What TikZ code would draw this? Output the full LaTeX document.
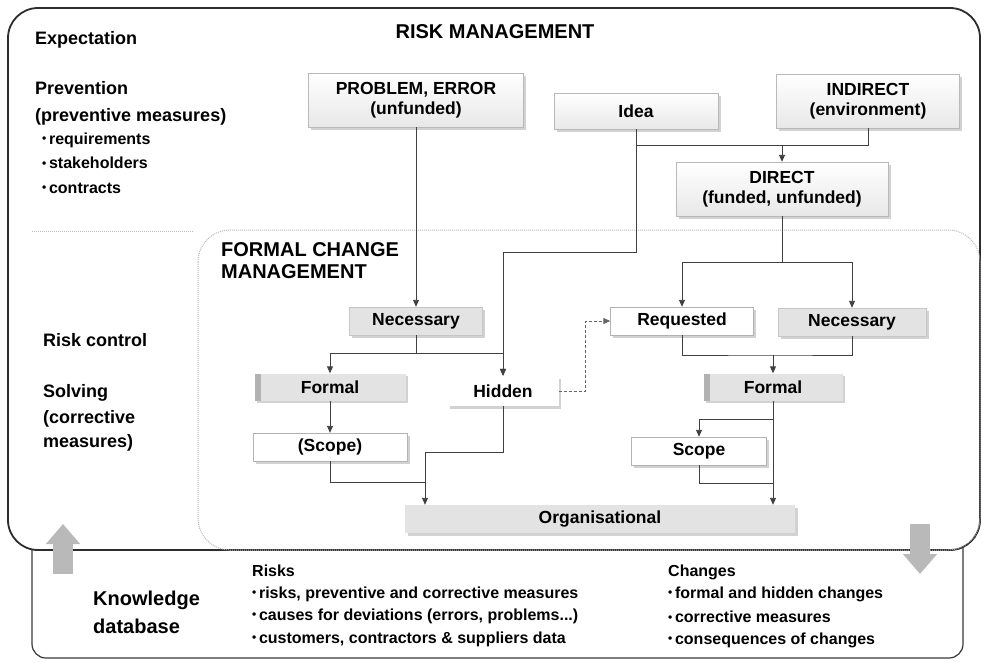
\documentclass[tikz,border=0pt]{standalone}
\usepackage{fontspec}
\setmainfont{Liberation Sans}
\usetikzlibrary{arrows.meta,shadows,positioning}
\newcommand{\bul}{{\fontsize{12}{12}\selectfont\raisebox{1.5pt}{•}}\,}
\tikzset{
  box/.style={minimum height=28pt,inner sep=1pt,align=center,
    font=\fontsize{17.5}{20}\selectfont\bfseries,
    drop shadow={shadow xshift=2.5pt,shadow yshift=-2.5pt,opacity=0.35}},
  sourcebox/.style={box,draw=gray!55,top color=white,bottom color=gray!18,minimum height=54pt},
  graybox/.style={box,draw=gray!45,fill=gray!22},
  whitebox/.style={box,draw=gray!60,fill=white},
  hiddenbox/.style={box,fill=white,minimum height=30pt},
  formalbox/.style={box,fill=gray!22,
    path picture={\fill[gray!60] (path picture bounding box.north west) rectangle ([xshift=6pt]path picture bounding box.south west);}},
  label/.style={anchor=west,inner sep=0pt,font=\fontsize{18}{20}\selectfont\bfseries},
  item/.style={anchor=west,inner sep=0pt,font=\fontsize{16}{18}\selectfont\bfseries},
  title/.style={inner sep=0pt,align=left,font=\fontsize{20}{24}\selectfont\bfseries},
  line/.style={draw=black!75,line width=0.9pt},
  link/.style={line,-{Triangle[length=7pt,width=6pt]}},
  dlink/.style={link,densely dashed,draw=black!60},
  bigarrow/.style={line width=20pt,draw=gray!55,-{Triangle[length=20pt,width=33pt]}}
}
\begin{document}
\begin{tikzpicture}[x=1pt,y=-1pt]
\useasboundingbox[fill=white] (0,0) rectangle (985,662);
% frames
\draw[gray!45!black,line width=1.2pt,rounded corners=14pt] (32,530) rectangle (963,658);
\draw[gray!35!black,fill=white,line width=1.8pt,rounded corners=30pt] (8,8) rectangle (980,550);
\draw[gray!55,densely dotted,line width=1pt,rounded corners=32pt] (198,230) rectangle (980,550);
\draw[gray!55,densely dotted,line width=1pt] (32,231) -- (193,231);

% left column
\node[label] (expect) at (35,40) {Expectation};
\node[label] (prev) at (35,88) {Prevention};
\node[label] (prevm) at (35,117) {(preventive measures)};
\node[item] (req1) at (42,140) {\bul requirements};
\node[item] (req2) at (42,163) {\bul stakeholders};
\node[item] (req3) at (42,188) {\bul contracts};
\node[label] (ctrl) at (43,340) {Risk control};
\node[label] (solv) at (43,393) {Solving};
\node[label] (solv2) at (43,419) {(corrective};
\node[label] (solv3) at (43,443) {measures)};

\node[title] (rm) at (495,32) {RISK MANAGEMENT};
\node[title,anchor=north west] (fcm) at (221,242) {FORMAL CHANGE\\[-2pt]MANAGEMENT};

% change sources
\node[sourcebox,minimum width=215pt] (prob) at (416,100) {PROBLEM, ERROR\\(unfunded)};
\node[sourcebox,minimum width=164pt,minimum height=36pt] (idea) at (636,111) {Idea};
\node[sourcebox,minimum width=183pt] (indir) at (868,101) {INDIRECT\\(environment)};
\node[sourcebox,minimum width=212pt] (dir) at (782,189) {DIRECT\\(funded, unfunded)};

% change types
\node[graybox,minimum width=133pt] (necL) at (416,321) {Necessary};
\node[whitebox,minimum width=143pt] (req) at (682,321) {Requested};
\node[graybox,minimum width=148pt] (necR) at (852,322) {Necessary};
\node[formalbox,minimum width=151pt,minimum height=27pt] (formL) at (330,387) {Formal};
\node[hiddenbox,minimum width=111pt] (hidden) at (503,391) {Hidden};
\node[formalbox,minimum width=139pt,minimum height=27pt] (formR) at (773,387) {Formal};
\node[whitebox,minimum width=154pt] (scopeL) at (330,447) {(Scope)};
\node[whitebox,minimum width=135pt] (scopeR) at (699,451) {Scope};
\node[graybox,draw=none,minimum width=390pt] (org) at (600,519) {Organisational};

% bends
\coordinate (ibus) at (782,145);
\coordinate (hbend) at (503,252);
\coordinate (dbus) at (782,262);
\coordinate (nbus) at (416,353);
\coordinate (rbus) at (773,355);
\coordinate (fbus) at (773,419);
\coordinate (hjoin) at (425,452);
\coordinate (sjoinL) at (425,482);
\coordinate (sjoinR) at (773,483);

\draw[link] (prob.south) -- (necL.north);
\draw[line] (idea.south) |- (indir.south |- ibus) -- (indir.south);
\draw[link] (ibus) -- (dir.north);
\draw[link] (idea.south) |- (hbend) -- (hidden.north);
\draw[line] (dir.south) -- (dbus);
\draw[link] (dbus) -| (req.north);
\draw[link] (dbus) -| (necR.north);
\draw[line] (necL.south) -- (nbus);
\draw[link] (nbus) -| (formL.north);
\draw[link] (nbus) -| (hidden.north);
\draw[link] (formL.south) -- (scopeL.north);
\draw[link] (hidden.south) |- (hjoin) -- (hjoin |- org.north);
\draw[line] (scopeL.south) |- (sjoinL);
\draw[line] (req.south) |- (rbus) -| (necR.south);
\draw[link] (rbus) -- (formR.north);
\draw[line] (formR.south) -- (fbus);
\draw[link] (fbus) -| (scopeR.north);
\draw[link] (fbus) -- (fbus |- org.north);
\draw[line] (scopeR.south) |- (sjoinR);
\draw[dlink] (hidden.east) -- ++(27,0) |- (req.west);

% knowledge database
\draw[bigarrow] (63,574) -- (63,524);
\draw[bigarrow] (920,524) -- (920,574);
\node[title] (kdb) at (93,612) [anchor=west] {Knowledge\\[4pt]database};
\node[item] (risks) at (252,571) {Risks};
\node[item] (risk1) at (252,594) {\bul risks, preventive and corrective measures};
\node[item] (risk2) at (252,616) {\bul causes for deviations (errors, problems...)};
\node[item] (risk3) at (252,639) {\bul customers, contractors \& suppliers data};
\node[item] (chg) at (668,572) {Changes};
\node[item] (chg1) at (668,594) {\bul formal and hidden changes};
\node[item] (chg2) at (668,617) {\bul corrective measures};
\node[item] (chg3) at (668,640) {\bul consequences of changes};
\end{tikzpicture}
\end{document}
